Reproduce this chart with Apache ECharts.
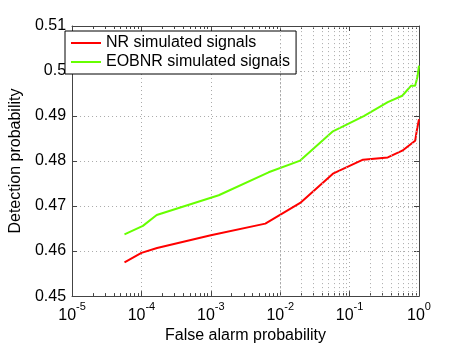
<!DOCTYPE html>
<html>
<head>
<meta charset="utf-8">
<script src="https://cdn.jsdelivr.net/npm/echarts@6/dist/echarts.min.js"></script>
<style>
html,body{margin:0;padding:0;background:#fff;}
#chart{width:463px;height:349px;}
</style>
</head>
<body>
<div id="chart"></div>
<script>
// 曲线数据 (虚警概率, 检测概率)
var nrFalseAlarm = [5.7e-5, 1.0e-4, 1.68e-4, 1.0e-3, 6.1e-3, 0.0194, 0.0575, 0.156, 0.355, 0.574, 0.88, 0.93, 1.0];
var nrDetection = [0.4575, 0.4596, 0.4607, 0.4635, 0.4661, 0.4707, 0.4772, 0.4803, 0.4808, 0.4823, 0.4845, 0.4868, 0.4893];
var eobFalseAlarm = [5.7e-5, 1.05e-4, 1.66e-4, 1.3e-3, 6.8e-3, 0.0194, 0.0575, 0.16, 0.355, 0.574, 0.766, 0.88, 0.95, 1.0];
var eobDetection = [0.4637, 0.4656, 0.4680, 0.4724, 0.4775, 0.4801, 0.4866, 0.4900, 0.4931, 0.4945, 0.4967, 0.4967, 0.4987, 0.5012];
var seriesNames = ['NR simulated signals', 'EOBNR simulated signals'];
var yTicks = [0.45, 0.46, 0.47, 0.48, 0.49, 0.5, 0.51];
var decades = [1e-5, 1e-4, 1e-3, 1e-2, 1e-1, 1];

// 组装成 [x, y] 点
function toPairs(xs, ys) {
	var res = [];
	for (var i = 0; i < xs.length; i++) {
		res.push([xs[i], ys[i]]);
	}
	return res;
}

// 对数坐标的次刻度值 2..9 x 10^k
function minorValues() {
	var res = [];
	for (var i = 0; i < decades.length - 1; i++) {
		for (var m = 2; m <= 9; m++) {
			res.push(decades[i] * m);
		}
	}
	return res;
}

function minorLines() {
	var vals = minorValues();
	var res = [];
	for (var i = 0; i < vals.length; i++) {
		res.push({xAxis: vals[i]});
	}
	return res;
}

var gridLine = {show: true, lineStyle: {color: '#aaaaaa', type: [1, 3], width: 1}};
var frameLine = {show: true, lineStyle: {color: '#444', width: 1}};
var tick = {show: true, inside: true, length: 5, lineStyle: {color: '#444'}};
var minorTick = {show: true, inside: true, length: 3, customValues: minorValues(), lineStyle: {color: '#444'}};
var font = 'Liberation Sans, Arial, sans-serif';

var myChart = echarts.init(document.getElementById('chart'));
myChart.setOption({
	animation: false,
	grid: {left: 60, right: 44, top: 26, bottom: 46, containLabel: false},
	legend: {
		orient: 'vertical',
		left: 65,
		top: 31,
		data: [{name: seriesNames[0], icon: 'rect'}, {name: seriesNames[1], icon: 'rect'}],
		backgroundColor: '#fff',
		borderColor: '#000',
		borderWidth: 1,
		borderRadius: 0,
		padding: [4, 6, 4, 6],
		itemGap: 3,
		itemWidth: 30,
		itemHeight: 2,
		textStyle: {fontFamily: font, fontSize: 16, color: '#000', lineHeight: 16}
	},
	xAxis: [{
		type: 'log',
		logBase: 10,
		min: 1e-5,
		max: 1,
		name: 'False alarm probability',
		nameLocation: 'middle',
		nameGap: 27,
		nameTextStyle: {fontFamily: font, fontSize: 16, color: '#000'},
		axisLine: frameLine,
		axisTick: tick,
		splitLine: gridLine,
		axisLabel: {
			margin: 5,
			formatter: function(v) {
				var e = Math.round(Math.log(v) / Math.LN10);
				return '{b|10}{s|' + e + '}';
			},
			rich: {
				b: {fontFamily: font, fontSize: 16, color: '#000', verticalAlign: 'bottom', lineHeight: 22},
				s: {fontFamily: font, fontSize: 11, color: '#000', verticalAlign: 'top', lineHeight: 22}
			}
		}
	}, {
		type: 'log',
		logBase: 10,
		min: 1e-5,
		max: 1,
		position: 'top',
		axisLine: frameLine,
		axisTick: tick,
		axisLabel: {show: false},
		splitLine: {show: false}
	}, {
		// 底部次刻度
		type: 'log',
		logBase: 10,
		min: 1e-5,
		max: 1,
		position: 'bottom',
		axisLine: {show: false},
		axisTick: minorTick,
		axisLabel: {show: false},
		splitLine: {show: false}
	}, {
		// 顶部次刻度
		type: 'log',
		logBase: 10,
		min: 1e-5,
		max: 1,
		position: 'top',
		axisLine: {show: false},
		axisTick: minorTick,
		axisLabel: {show: false},
		splitLine: {show: false}
	}],
	yAxis: [{
		type: 'value',
		min: yTicks[0],
		max: yTicks[yTicks.length - 1],
		interval: 0.01,
		name: 'Detection probability',
		nameLocation: 'middle',
		nameGap: 40,
		nameTextStyle: {fontFamily: font, fontSize: 16, color: '#000'},
		axisLine: frameLine,
		axisTick: tick,
		splitLine: gridLine,
		axisLabel: {
			margin: 6,
			fontFamily: font,
			fontSize: 16,
			color: '#000',
			formatter: function(v) { return String(parseFloat(v.toFixed(2))); }
		}
	}, {
		type: 'value',
		min: yTicks[0],
		max: yTicks[yTicks.length - 1],
		interval: 0.01,
		position: 'right',
		axisLine: frameLine,
		axisTick: tick,
		axisLabel: {show: false},
		splitLine: {show: false}
	}],
	series: [{
		// 次网格线
		type: 'line',
		data: [],
		silent: true,
		z: 1,
		markLine: {
			silent: true,
			symbol: 'none',
			label: {show: false},
			lineStyle: {color: '#aaaaaa', type: [1, 3], width: 1},
			data: minorLines()
		}
	}, {
		name: seriesNames[0],
		type: 'line',
		data: toPairs(nrFalseAlarm, nrDetection),
		symbol: 'none',
		z: 3,
		color: '#ff0000',
		lineStyle: {width: 2, color: '#ff0000'}
	}, {
		name: seriesNames[1],
		type: 'line',
		data: toPairs(eobFalseAlarm, eobDetection),
		symbol: 'none',
		z: 3,
		color: '#66ff00',
		lineStyle: {width: 2, color: '#66ff00'}
	}]
});
</script>
</body>
</html>
